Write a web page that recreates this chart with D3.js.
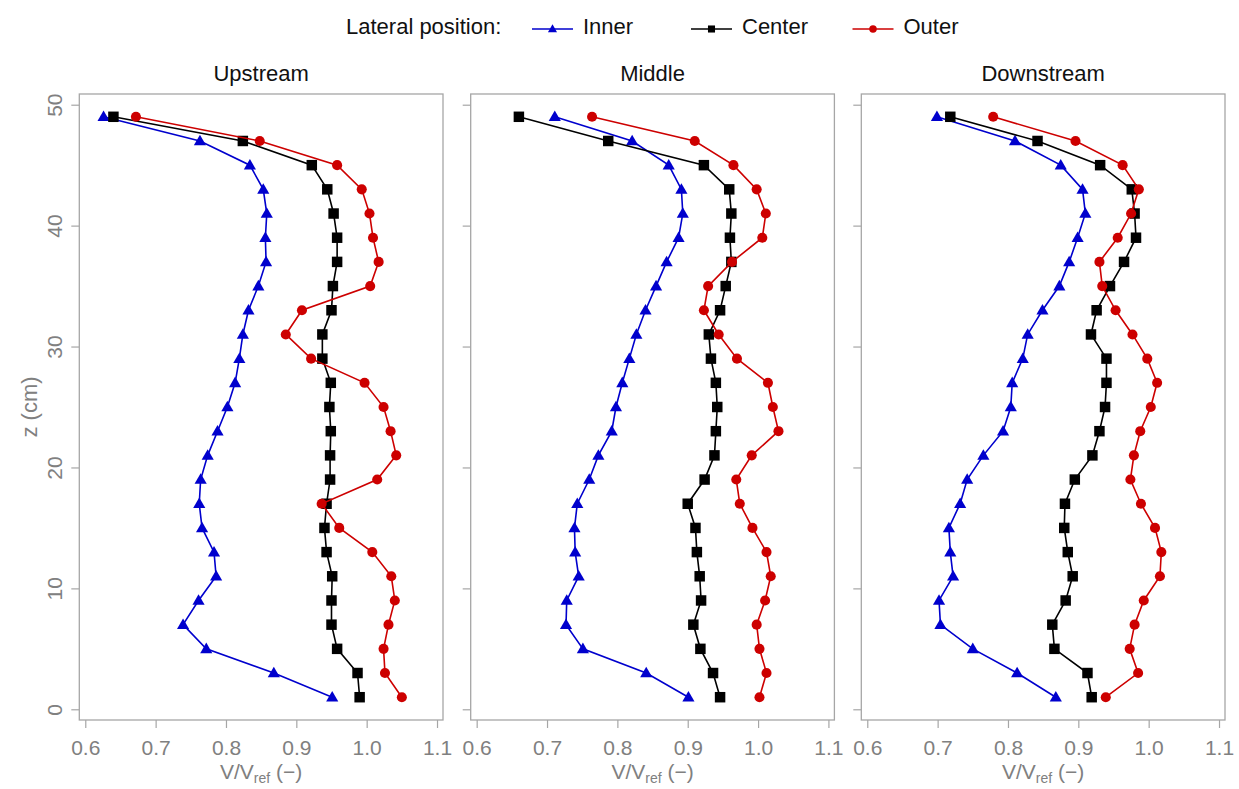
<!DOCTYPE html>
<html>
<head>
<meta charset="utf-8">
<script src="https://cdn.jsdelivr.net/npm/d3@7"></script>
<style>
  html, body { margin: 0; padding: 0; background: #fff; }
  svg { display: block; }
  text { font-family: "Liberation Sans", Arial, Helvetica, sans-serif; }
</style>
</head>
<body>
<svg id="chart" width="1239" height="789"></svg>
<script>
// ---- data ----
const zLevels = [1,3,5,7,9,11,13,15,17,19,21,23,25,27,29,31,33,35,37,39,41,43,45,47,49];
const panelTitles = ["Upstream", "Middle", "Downstream"];
const seriesNames = ["Inner", "Center", "Outer"];
const xTicks = [0.6, 0.7, 0.8, 0.9, 1.0, 1.1];
const yTicks = [0, 10, 20, 30, 40, 50];

const upstreamInner  = [0.951,0.868,0.772,0.739,0.761,0.786,0.783,0.766,0.762,0.764,0.774,0.788,0.802,0.813,0.819,0.824,0.832,0.846,0.857,0.856,0.858,0.853,0.834,0.763,0.626];
const upstreamCenter = [0.990,0.987,0.958,0.950,0.950,0.951,0.943,0.940,0.943,0.948,0.948,0.949,0.947,0.949,0.937,0.937,0.950,0.952,0.958,0.958,0.953,0.944,0.922,0.824,0.640];
const upstreamOuter  = [1.050,1.026,1.024,1.031,1.040,1.035,1.008,0.961,0.936,1.015,1.042,1.034,1.024,0.997,0.921,0.885,0.908,1.005,1.017,1.009,1.004,0.993,0.958,0.848,0.672];

const middleInner  = [0.901,0.841,0.751,0.727,0.728,0.745,0.740,0.739,0.743,0.760,0.773,0.792,0.798,0.807,0.817,0.827,0.840,0.855,0.870,0.887,0.893,0.891,0.873,0.821,0.711];
const middleCenter = [0.946,0.936,0.918,0.908,0.919,0.917,0.913,0.911,0.900,0.924,0.938,0.940,0.942,0.940,0.933,0.930,0.946,0.954,0.962,0.960,0.962,0.959,0.923,0.787,0.660];
const middleOuter  = [1.002,1.012,1.002,0.998,1.010,1.018,1.012,0.992,0.974,0.969,0.991,1.029,1.021,1.014,0.970,0.944,0.923,0.929,0.963,1.006,1.011,0.998,0.965,0.910,0.764];

const downstreamInner  = [0.868,0.813,0.750,0.704,0.702,0.722,0.718,0.716,0.732,0.742,0.765,0.793,0.804,0.806,0.821,0.828,0.849,0.873,0.887,0.899,0.910,0.906,0.875,0.810,0.699];
const downstreamCenter = [0.919,0.913,0.866,0.863,0.882,0.892,0.885,0.880,0.881,0.895,0.920,0.930,0.938,0.940,0.940,0.918,0.926,0.945,0.965,0.982,0.980,0.976,0.931,0.842,0.718];
const downstreamOuter  = [0.939,0.985,0.973,0.980,0.993,1.016,1.018,1.009,0.989,0.974,0.979,0.988,1.003,1.012,0.998,0.977,0.953,0.934,0.930,0.956,0.975,0.986,0.963,0.896,0.779];

const panelData = [
  [upstreamInner, upstreamCenter, upstreamOuter],
  [middleInner, middleCenter, middleOuter],
  [downstreamInner, downstreamCenter, downstreamOuter]
];

// ---- styles / layout ----
const colors = ["#0000CD", "#000000", "#CD0000"];
const symbols = [d3.symbolTriangle, d3.symbolSquare, d3.symbolCircle];
const symbolSizes = [64, 110, 80];
const legendSymbolSizes = [36, 50, 44];
const boxColor = "#a6a6a6";
const labelColor = "#808080";

const panelLefts = [79.3, 470.7, 861.3];
const panelW = 363.7;
const panelTop = 94, panelBottom = 720;

const svg = d3.select("#chart");

panelTitles.forEach((title, pi) => {
  const left = panelLefts[pi];
  const x = d3.scaleLinear().domain([0.5915, 1.1085]).range([0, panelW]);
  const y = d3.scaleLinear().domain([-0.885, 50.885]).range([panelBottom - panelTop, 0]);
  const g = svg.append("g").attr("transform", `translate(${left},${panelTop})`);
  const h = panelBottom - panelTop;

  // x axis
  const xa = g.append("g").attr("transform", `translate(0,${h})`)
    .call(d3.axisBottom(x).tickValues(xTicks).tickFormat(d3.format(".1f")).tickSize(8).tickSizeOuter(0));
  xa.select(".domain").remove();
  xa.selectAll(".tick line").attr("stroke", boxColor).attr("stroke-width", 1.2);
  xa.selectAll(".tick text").attr("y", 35).attr("dy", 0)
    .attr("fill", labelColor).attr("font-size", 21).attr("font-family", "Liberation Sans, Arial, sans-serif");

  // y axis
  const ya = g.append("g")
    .call(d3.axisLeft(y).tickValues(yTicks).tickFormat(pi === 0 ? d3.format("d") : () => "").tickSize(8).tickSizeOuter(0));
  ya.select(".domain").remove();
  ya.selectAll(".tick line").attr("stroke", boxColor).attr("stroke-width", 1.2);
  ya.selectAll(".tick text")
    .attr("transform", "rotate(-90)")
    .attr("x", 0).attr("y", -17.6).attr("dy", 0)
    .attr("text-anchor", "middle")
    .attr("fill", labelColor).attr("font-size", 21).attr("font-family", "Liberation Sans, Arial, sans-serif");

  // box
  g.append("rect").attr("x", 0).attr("y", 0).attr("width", panelW).attr("height", h)
    .attr("fill", "none").attr("stroke", boxColor).attr("stroke-width", 1.3);

  // title
  g.append("text").attr("x", panelW / 2).attr("y", -13)
    .attr("text-anchor", "middle").attr("font-size", 22).attr("fill", "#111")
    .text(title);

  // x axis title
  const xt = g.append("text").attr("x", panelW / 2).attr("y", h + 59)
    .attr("text-anchor", "middle").attr("font-size", 21).attr("fill", labelColor);
  xt.append("tspan").text("V/V");
  xt.append("tspan").attr("font-size", 14).attr("dy", 3.5).text("ref");
  xt.append("tspan").attr("dy", -3.5).text(" (\u2212)");

  // series
  panelData[pi].forEach((vals, si) => {
    const pts = zLevels.map((z, i) => [vals[i], z]);
    g.append("path").datum(pts)
      .attr("fill", "none").attr("stroke", colors[si]).attr("stroke-width", 1.6)
      .attr("d", d3.line().x(d => x(d[0])).y(d => y(d[1])));
    g.selectAll(null).data(pts).enter().append("path")
      .attr("transform", d => `translate(${x(d[0])},${y(d[1]) + (si === 0 ? 0.8 : 0)})`)
      .attr("d", d3.symbol().type(symbols[si]).size(symbolSizes[si]))
      .attr("fill", colors[si]);
  });
});

// y axis title
svg.append("text")
  .attr("transform", `translate(36.7,${(panelTop + panelBottom) / 2}) rotate(-90)`)
  .attr("text-anchor", "middle").attr("font-size", 22).attr("fill", labelColor)
  .text("z (cm)");

// legend
const legY = 29;
svg.append("text").attr("x", 346).attr("y", legY + 4.5).attr("font-size", 22).attr("fill", "#111")
  .text("Lateral position:");
const legStarts = [532, 691, 852.5];
seriesNames.forEach((name, si) => {
  const lx = legStarts[si];
  svg.append("line").attr("x1", lx).attr("x2", lx + 41).attr("y1", legY).attr("y2", legY)
    .attr("stroke", colors[si]).attr("stroke-width", 1.6);
  svg.append("path").attr("transform", `translate(${lx + 20.5},${legY + (si === 0 ? 0.6 : 0)})`)
    .attr("d", d3.symbol().type(symbols[si]).size(legendSymbolSizes[si]))
    .attr("fill", colors[si]);
  svg.append("text").attr("x", lx + 51).attr("y", legY + 4.5).attr("font-size", 22).attr("fill", "#111")
    .text(name);
});
</script>
</body>
</html>
